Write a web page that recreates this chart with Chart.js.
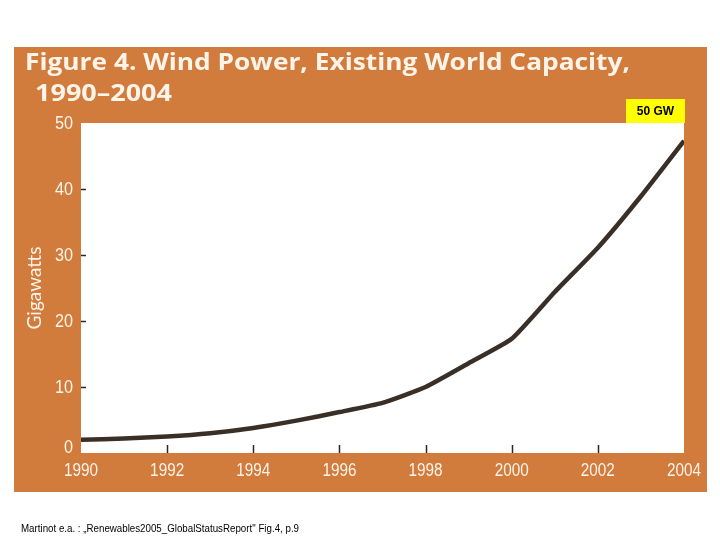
<!DOCTYPE html>
<html>
<head>
<meta charset="utf-8">
<script src="https://cdn.jsdelivr.net/npm/chart.js@4"></script>
<style>
  html, body { margin: 0; padding: 0; background: #fff; }
  #wrap { width: 720px; height: 540px; }
</style>
</head>
<body>
<div id="wrap"><canvas id="myChart" width="720" height="540"></canvas></div>
<script>
// data
const years = [1990, 1991, 1992, 1993, 1994, 1995, 1996, 1997, 1998, 1999, 2000, 2001, 2002, 2003, 2004];
const capacity = [2.0, 2.2, 2.5, 3.0, 3.8, 4.9, 6.2, 7.6, 10.0, 13.6, 17.3, 24.4, 31.1, 38.9, 47.3];
const yTicks = [0, 10, 20, 30, 40, 50];
const xTicks = [1990, 1992, 1994, 1996, 1998, 2000, 2002, 2004];

const titleLines = ["Figure 4. Wind Power, Existing World Capacity,", "1990\u20132004"];
const badgeText = "50 GW";
const sourceText = "Martinot e.a. : \u201eRenewables2005_GlobalStatusReport\" Fig.4, p.9";

const orange = "#d17b3c";
const cream = "#fff4ea";
const tickFont = "18px 'Liberation Sans', Arial, sans-serif";

// draw text squeezed/stretched to an exact width
function fitText(ctx, text, x, y, width) {
    const w = ctx.measureText(text).width;
    ctx.save();
    ctx.translate(x, y);
    ctx.scale(width / w, 1);
    ctx.fillText(text, 0, 0);
    ctx.restore();
}

// condensed text, like the narrow face of the original
function narrowText(ctx, text, x, y, sx) {
    ctx.save();
    ctx.translate(x, y);
    ctx.scale(sx, 1);
    ctx.fillText(text, 0, 0);
    ctx.restore();
}

// orange panel, white plot, title, badge and source line
const frame = {
    id: "frame",
    beforeDraw(chart) {
        const ctx = chart.ctx;
        const a = chart.chartArea;
        ctx.save();
        ctx.fillStyle = "#fff";
        ctx.fillRect(0, 0, chart.width, chart.height);
        ctx.fillStyle = orange;
        ctx.fillRect(14, 47, 693, 445);
        ctx.fillStyle = "#fff";
        ctx.fillRect(a.left, a.top, a.right - a.left, a.bottom - a.top);

        ctx.fillStyle = cream;
        ctx.font = "bold 23px 'Open Sans', Lato, sans-serif";
        ctx.textBaseline = "alphabetic";
        fitText(ctx, titleLines[0], 25, 70, 605);
        fitText(ctx, titleLines[1], 35, 101, 137);

        ctx.fillStyle = "#ffff00";
        ctx.fillRect(626, 99, 59, 24);
        ctx.fillStyle = "#000";
        ctx.font = "bold 12px 'Liberation Sans', Arial, sans-serif";
        ctx.textAlign = "center";
        ctx.textBaseline = "middle";
        ctx.fillText(badgeText, 655.5, 112);

        ctx.textAlign = "left";
        ctx.textBaseline = "alphabetic";
        ctx.font = "10px 'Liberation Sans', Arial, sans-serif";
        fitText(ctx, sourceText, 21, 532, 278);
        ctx.restore();
    },
    afterDatasetsDraw(chart) {
        const ctx = chart.ctx;
        const a = chart.chartArea;
        const xs = chart.scales.x, ys = chart.scales.y;
        ctx.save();
        // short inner tick marks
        ctx.strokeStyle = "#2e2722";
        ctx.lineWidth = 1.5;
        ctx.beginPath();
        xTicks.slice(1, -1).forEach(v => {
            const px = Math.round(xs.getPixelForValue(v)) + 0.5;
            ctx.moveTo(px, a.bottom);
            ctx.lineTo(px, a.bottom - 8);
        });
        yTicks.slice(1, -1).forEach(v => {
            const py = Math.round(ys.getPixelForValue(v)) + 0.5;
            ctx.moveTo(a.left, py);
            ctx.lineTo(a.left + 5, py);
        });
        ctx.stroke();

        // tick labels in a condensed face
        ctx.fillStyle = cream;
        ctx.font = tickFont;
        ctx.textBaseline = "middle";
        ctx.textAlign = "center";
        xTicks.forEach(v => {
            narrowText(ctx, String(v), xs.getPixelForValue(v), a.bottom + 18, 0.85);
        });
        ctx.textAlign = "right";
        yTicks.forEach(v => {
            let py = ys.getPixelForValue(v);
            if (v === 0) py -= 6;
            narrowText(ctx, String(v), a.left - 8, py + 1, 0.9);
        });
        ctx.restore();
    }
};

const ctx = document.getElementById("myChart");

new Chart(ctx, {
    type: "line",
    data: {
        datasets: [{
            label: "Existing world capacity (GW)",
            data: years.map((y, i) => ({ x: y, y: capacity[i] })),
            borderColor: "#3a2f27",
            borderWidth: 4.5,
            pointRadius: 0,
            tension: 0.15,
            fill: false
        }]
    },
    options: {
        responsive: false,
        animation: false,
        layout: { padding: { left: 14, right: 36, top: 123, bottom: 48 } },
        plugins: {
            legend: { display: false },
            tooltip: { enabled: false }
        },
        scales: {
            x: {
                type: "linear",
                min: 1990,
                max: 2004,
                afterBuildTicks: s => { s.ticks = xTicks.map(v => ({ value: v })); },
                afterFit: s => { s.height = 39; },
                grid: { display: false },
                border: { display: false },
                ticks: { display: false }
            },
            y: {
                min: 0,
                max: 50,
                afterBuildTicks: s => { s.ticks = yTicks.map(v => ({ value: v })); },
                afterFit: s => { s.width = 67; },
                grid: { display: false },
                border: { display: false },
                title: {
                    display: true,
                    text: "Gigawatts",
                    color: cream,
                    padding: { top: 9, bottom: 0 },
                    font: { family: "Lato, 'Open Sans', sans-serif", size: 19 }
                },
                ticks: { display: false }
            }
        }
    },
    plugins: [frame]
});
</script>
</body>
</html>
